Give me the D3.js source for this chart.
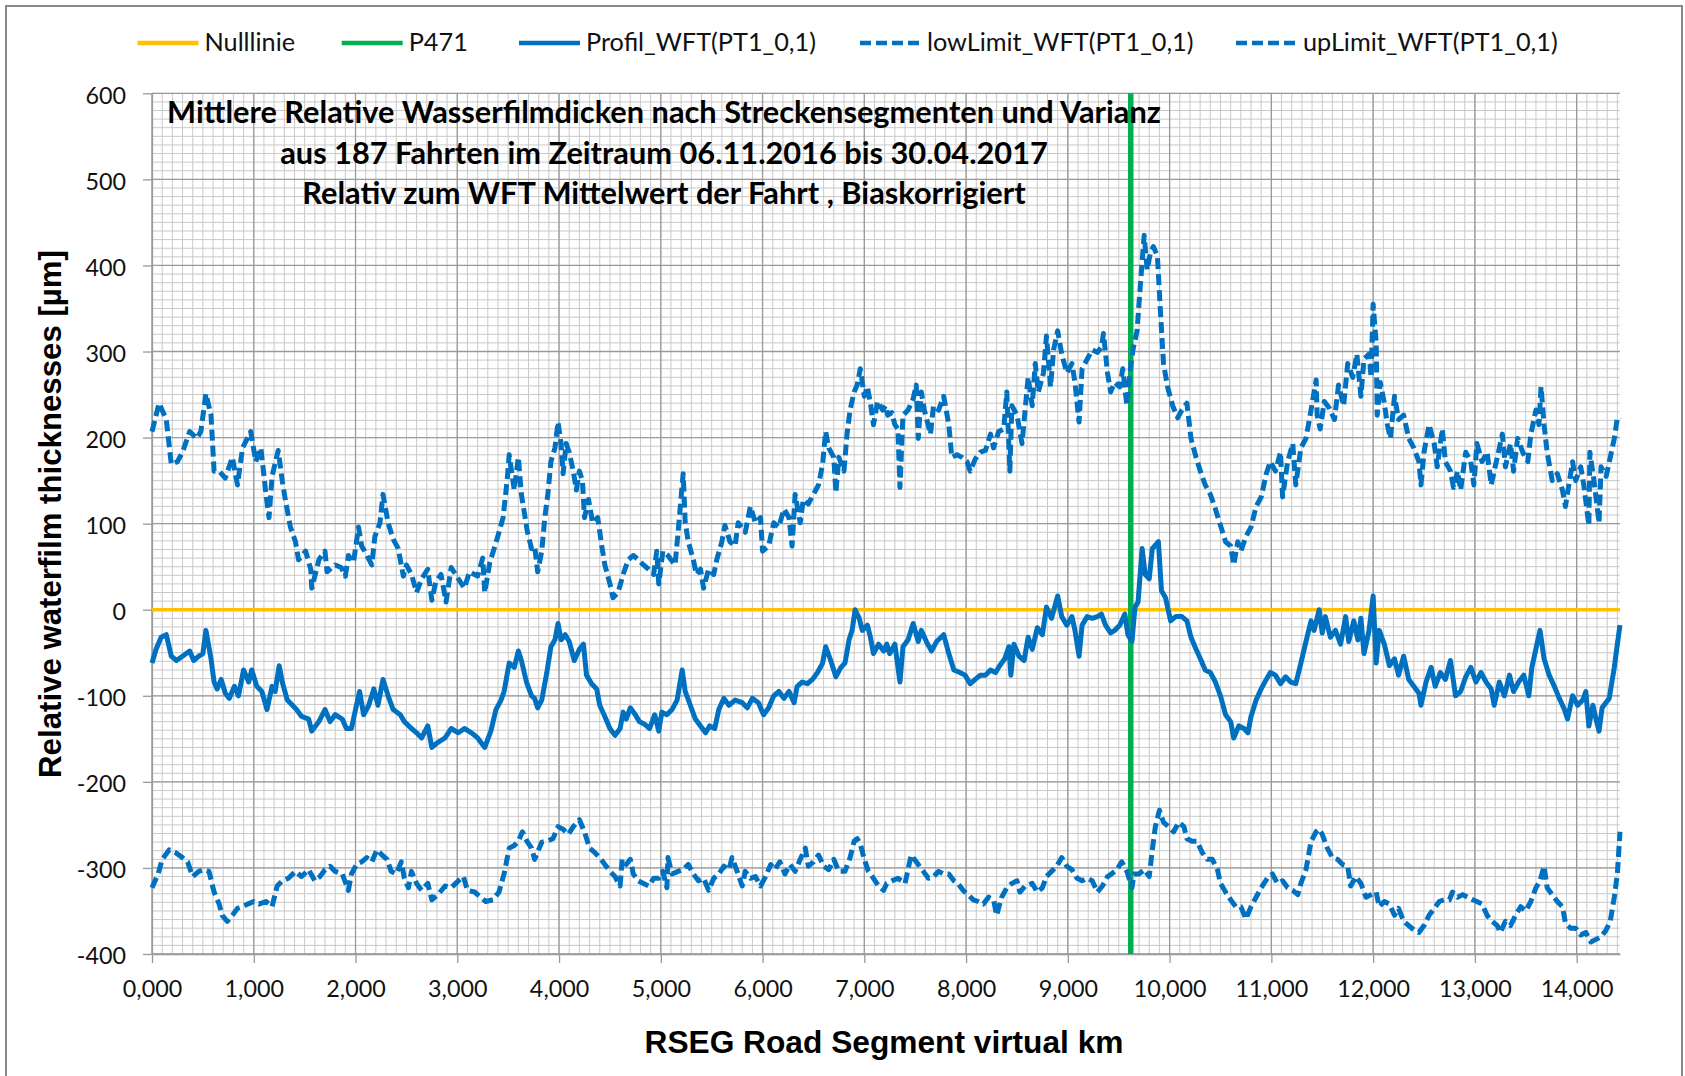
<!DOCTYPE html>
<html>
<head>
<meta charset="utf-8">
<script src="https://cdn.jsdelivr.net/npm/d3@7"></script>
<style>
	body { margin: 0; background: #fff; }
	svg { display: block; }
</style>
</head>
<body>
<svg id="chart" width="1685" height="1076"></svg>
<script>
'use strict'

const titleLines = [
	'Mittlere Relative Wasserfilmdicken nach Streckensegmenten und Varianz',
	'aus 187 Fahrten im Zeitraum 06.11.2016 bis 30.04.2017',
	'Relativ zum WFT Mittelwert der Fahrt , Biaskorrigiert'
]
const yLabel = 'Relative waterfilm thicknesses [µm]'
const xLabel = 'RSEG Road Segment virtual km'
const legendNames = ['Nulllinie', 'P471', 'Profil_WFT(PT1_0,1)', 'lowLimit_WFT(PT1_0,1)', 'upLimit_WFT(PT1_0,1)']

const xMax = 14.426
const xTicks = [0, 1, 2, 3, 4, 5, 6, 7, 8, 9, 10, 11, 12, 13, 14]
const yTicks = [-400, -300, -200, -100, 0, 100, 200, 300, 400, 500, 600]

// [km, µm]
const nullLinie = [[0, 0], [14.426, 0]]
const p471 = [[9.618, -400], [9.618, 600]]

const profil = [
	[0.00,-62],[0.04,-46],[0.09,-32],[0.14,-29],[0.19,-54],[0.24,-59],[0.30,-54],[0.37,-48],[0.41,-59],[0.46,-54],
	[0.50,-51],[0.53,-24],[0.58,-57],[0.61,-84],[0.64,-92],[0.68,-81],[0.72,-97],[0.76,-103],[0.81,-89],[0.85,-100],
	[0.90,-70],[0.95,-84],[0.98,-70],[1.03,-89],[1.08,-95],[1.13,-116],[1.18,-89],[1.21,-95],[1.25,-65],[1.28,-84],
	[1.33,-105],[1.38,-111],[1.42,-116],[1.47,-124],[1.54,-127],[1.57,-141],[1.64,-130],[1.70,-116],[1.75,-130],[1.80,-122],
	[1.87,-127],[1.91,-138],[1.96,-138],[2.00,-116],[2.04,-95],[2.08,-122],[2.13,-111],[2.18,-92],[2.22,-111],[2.27,-81],
	[2.32,-100],[2.37,-116],[2.44,-122],[2.48,-130],[2.55,-138],[2.60,-143],[2.65,-149],[2.71,-135],[2.75,-160],[2.81,-154],
	[2.88,-149],[2.94,-138],[3.01,-143],[3.07,-138],[3.14,-143],[3.20,-149],[3.27,-160],[3.33,-141],[3.38,-116],[3.43,-105],
	[3.46,-95],[3.51,-62],[3.56,-67],[3.60,-48],[3.63,-59],[3.68,-84],[3.73,-100],[3.76,-103],[3.79,-114],[3.83,-105],
	[3.88,-73],[3.92,-43],[3.96,-35],[3.99,-16],[4.02,-35],[4.06,-29],[4.10,-37],[4.15,-59],[4.20,-46],[4.24,-40],
	[4.27,-76],[4.32,-86],[4.37,-92],[4.40,-111],[4.45,-124],[4.50,-138],[4.55,-146],[4.60,-138],[4.63,-119],[4.66,-127],
	[4.70,-114],[4.75,-122],[4.79,-130],[4.84,-133],[4.89,-138],[4.94,-122],[4.98,-141],[5.01,-119],[5.06,-122],[5.11,-116],
	[5.16,-105],[5.21,-70],[5.24,-95],[5.29,-111],[5.34,-127],[5.39,-135],[5.44,-143],[5.48,-135],[5.53,-138],[5.57,-116],
	[5.62,-103],[5.67,-111],[5.73,-105],[5.80,-108],[5.85,-114],[5.90,-103],[5.96,-108],[6.01,-122],[6.06,-114],[6.11,-100],
	[6.16,-95],[6.21,-103],[6.26,-95],[6.31,-108],[6.34,-89],[6.39,-84],[6.44,-86],[6.49,-81],[6.54,-73],[6.59,-62],
	[6.62,-43],[6.67,-59],[6.72,-78],[6.77,-67],[6.81,-62],[6.85,-35],[6.88,-24],[6.91,0],[6.95,-10],[6.98,-24],
	[7.03,-18],[7.06,-32],[7.09,-51],[7.14,-40],[7.19,-48],[7.22,-40],[7.25,-51],[7.30,-40],[7.35,-84],[7.38,-43],
	[7.43,-35],[7.48,-16],[7.53,-37],[7.56,-24],[7.61,-37],[7.66,-48],[7.71,-37],[7.78,-29],[7.83,-51],[7.88,-70],
	[7.94,-73],[7.99,-76],[8.04,-86],[8.09,-81],[8.14,-76],[8.19,-76],[8.24,-70],[8.29,-73],[8.33,-65],[8.38,-57],
	[8.42,-43],[8.44,-76],[8.47,-40],[8.52,-54],[8.57,-59],[8.61,-32],[8.65,-46],[8.70,-21],[8.75,-29],[8.79,3],
	[8.84,-10],[8.90,16],[8.94,-8],[8.99,-18],[9.04,-8],[9.07,-24],[9.11,-54],[9.14,-18],[9.19,-8],[9.24,-10],
	[9.29,-8],[9.33,-5],[9.37,-18],[9.42,-27],[9.46,-24],[9.51,-18],[9.56,-5],[9.59,-29],[9.63,-37],[9.66,3],
	[9.69,9],[9.73,71],[9.76,41],[9.80,36],[9.83,71],[9.89,79],[9.92,22],[9.96,14],[10.01,-13],[10.06,-8],
	[10.12,-8],[10.17,-13],[10.21,-32],[10.26,-46],[10.31,-59],[10.35,-70],[10.40,-73],[10.45,-84],[10.50,-100],[10.55,-122],
	[10.60,-130],[10.63,-149],[10.68,-135],[10.73,-138],[10.77,-143],[10.80,-124],[10.85,-105],[10.90,-92],[10.95,-81],[10.99,-73],
	[11.04,-76],[11.09,-86],[11.14,-78],[11.19,-84],[11.24,-86],[11.29,-62],[11.34,-37],[11.39,-13],[11.42,-24],[11.47,0],
	[11.50,-27],[11.53,-8],[11.58,-32],[11.63,-24],[11.68,-40],[11.73,-8],[11.76,-37],[11.81,-13],[11.85,-35],[11.88,-10],
	[11.91,-51],[11.96,-24],[12.00,16],[12.03,-62],[12.06,-24],[12.11,-40],[12.16,-65],[12.21,-57],[12.25,-76],[12.30,-54],
	[12.35,-81],[12.40,-89],[12.45,-97],[12.47,-111],[12.52,-84],[12.57,-67],[12.61,-89],[12.66,-73],[12.71,-81],[12.76,-59],
	[12.81,-100],[12.86,-95],[12.91,-78],[12.96,-67],[13.01,-84],[13.06,-73],[13.11,-84],[13.16,-92],[13.19,-111],[13.24,-84],
	[13.29,-100],[13.34,-76],[13.38,-95],[13.43,-84],[13.48,-76],[13.53,-100],[13.56,-67],[13.61,-40],[13.64,-24],[13.68,-57],
	[13.73,-76],[13.78,-89],[13.83,-103],[13.88,-116],[13.91,-127],[13.96,-100],[14.01,-111],[14.06,-105],[14.09,-95],[14.12,-135],
	[14.16,-111],[14.19,-127],[14.22,-141],[14.25,-114],[14.32,-103],[14.37,-67],[14.40,-40],[14.426,-18]
]

const lowLimit = [
	[0.00,-323],[0.06,-307],[0.10,-290],[0.17,-279],[0.23,-282],[0.30,-288],[0.35,-293],[0.40,-310],[0.46,-304],[0.51,-302],
	[0.56,-304],[0.61,-328],[0.66,-342],[0.69,-355],[0.74,-362],[0.79,-355],[0.84,-347],[0.89,-345],[0.94,-342],[1.00,-339],
	[1.05,-342],[1.12,-339],[1.18,-345],[1.23,-321],[1.28,-315],[1.34,-312],[1.41,-304],[1.47,-310],[1.54,-302],[1.60,-315],
	[1.65,-310],[1.70,-302],[1.75,-298],[1.80,-304],[1.87,-307],[1.93,-326],[1.96,-307],[2.01,-296],[2.06,-293],[2.11,-288],
	[2.16,-293],[2.21,-279],[2.26,-285],[2.31,-290],[2.35,-304],[2.40,-307],[2.45,-293],[2.48,-312],[2.52,-323],[2.55,-304],
	[2.60,-318],[2.65,-326],[2.71,-318],[2.75,-337],[2.81,-331],[2.88,-321],[2.94,-323],[3.01,-315],[3.06,-310],[3.10,-326],
	[3.17,-328],[3.23,-334],[3.28,-339],[3.35,-337],[3.41,-328],[3.46,-307],[3.51,-277],[3.56,-274],[3.60,-269],[3.64,-258],
	[3.69,-270],[3.73,-277],[3.76,-290],[3.83,-270],[3.88,-269],[3.94,-266],[3.99,-252],[4.04,-255],[4.09,-261],[4.14,-252],
	[4.20,-244],[4.25,-258],[4.30,-277],[4.35,-282],[4.40,-288],[4.45,-296],[4.50,-304],[4.55,-310],[4.60,-321],[4.62,-290],
	[4.66,-296],[4.70,-290],[4.73,-307],[4.78,-315],[4.83,-318],[4.88,-321],[4.93,-312],[4.98,-312],[5.02,-304],[5.06,-323],
	[5.07,-288],[5.11,-307],[5.17,-304],[5.22,-302],[5.27,-296],[5.32,-307],[5.37,-315],[5.42,-312],[5.47,-326],[5.52,-312],
	[5.57,-307],[5.62,-298],[5.67,-302],[5.70,-288],[5.75,-304],[5.80,-321],[5.83,-304],[5.88,-312],[5.93,-310],[5.98,-321],
	[6.03,-310],[6.08,-296],[6.12,-302],[6.17,-293],[6.22,-307],[6.27,-296],[6.32,-304],[6.37,-290],[6.42,-277],[6.45,-298],
	[6.50,-293],[6.55,-285],[6.60,-298],[6.65,-302],[6.70,-290],[6.75,-304],[6.81,-304],[6.86,-288],[6.90,-269],[6.93,-266],
	[6.96,-272],[7.00,-290],[7.04,-304],[7.09,-312],[7.14,-321],[7.19,-326],[7.22,-318],[7.27,-315],[7.33,-312],[7.40,-318],
	[7.46,-285],[7.53,-296],[7.58,-304],[7.63,-312],[7.68,-310],[7.73,-304],[7.78,-307],[7.83,-307],[7.88,-315],[7.92,-318],
	[7.97,-326],[8.02,-331],[8.07,-337],[8.12,-339],[8.17,-342],[8.22,-334],[8.27,-337],[8.30,-355],[8.35,-334],[8.40,-323],
	[8.45,-318],[8.50,-315],[8.53,-328],[8.58,-321],[8.65,-318],[8.70,-328],[8.75,-323],[8.79,-310],[8.84,-304],[8.89,-298],
	[8.94,-288],[8.99,-298],[9.04,-302],[9.09,-312],[9.14,-315],[9.19,-312],[9.24,-315],[9.29,-328],[9.34,-321],[9.39,-310],
	[9.43,-307],[9.48,-302],[9.53,-293],[9.58,-304],[9.63,-323],[9.65,-307],[9.70,-307],[9.75,-302],[9.80,-310],[9.83,-279],
	[9.86,-252],[9.90,-233],[9.94,-247],[9.99,-252],[10.04,-258],[10.09,-247],[10.14,-252],[10.17,-266],[10.22,-269],[10.27,-269],
	[10.32,-282],[10.37,-290],[10.42,-290],[10.47,-302],[10.50,-318],[10.55,-328],[10.60,-337],[10.65,-345],[10.70,-345],[10.75,-359],
	[10.80,-345],[10.85,-334],[10.90,-323],[10.96,-312],[11.01,-307],[11.06,-318],[11.11,-315],[11.16,-323],[11.21,-326],[11.26,-331],
	[11.29,-318],[11.34,-302],[11.39,-269],[11.44,-258],[11.47,-255],[11.50,-261],[11.55,-277],[11.60,-288],[11.65,-290],[11.70,-296],
	[11.75,-298],[11.78,-321],[11.83,-310],[11.88,-318],[11.93,-334],[11.98,-331],[12.03,-328],[12.06,-345],[12.11,-339],[12.16,-342],
	[12.21,-355],[12.25,-347],[12.30,-362],[12.35,-367],[12.40,-372],[12.45,-375],[12.50,-367],[12.55,-355],[12.60,-347],[12.65,-339],
	[12.70,-337],[12.75,-337],[12.78,-328],[12.83,-334],[12.88,-331],[12.93,-334],[12.98,-337],[13.02,-339],[13.07,-342],[13.12,-355],
	[13.17,-362],[13.22,-367],[13.25,-375],[13.30,-362],[13.35,-367],[13.40,-355],[13.45,-345],[13.50,-350],[13.55,-339],[13.60,-323],
	[13.64,-315],[13.68,-298],[13.71,-323],[13.76,-331],[13.81,-339],[13.86,-345],[13.89,-364],[13.94,-370],[13.99,-370],[14.04,-378],
	[14.09,-375],[14.14,-386],[14.19,-383],[14.24,-380],[14.29,-372],[14.33,-362],[14.37,-334],[14.40,-307],[14.426,-258]
]

const upLimit = [
	[0.00,207],[0.07,240],[0.14,221],[0.19,169],[0.25,172],[0.30,183],[0.37,207],[0.44,199],[0.48,207],[0.53,251],
	[0.58,226],[0.61,161],[0.66,161],[0.72,153],[0.79,177],[0.84,145],[0.89,188],[0.97,207],[1.02,172],[1.07,188],
	[1.12,134],[1.15,107],[1.18,155],[1.24,185],[1.28,150],[1.31,128],[1.36,96],[1.41,79],[1.44,58],[1.51,68],
	[1.56,47],[1.57,25],[1.64,58],[1.70,68],[1.72,44],[1.80,52],[1.86,49],[1.90,39],[1.93,63],[1.98,55],
	[2.03,96],[2.06,74],[2.09,68],[2.16,52],[2.19,85],[2.24,101],[2.27,134],[2.32,101],[2.37,82],[2.42,71],
	[2.47,39],[2.50,52],[2.55,41],[2.60,20],[2.65,36],[2.71,47],[2.75,11],[2.79,33],[2.84,41],[2.89,9],
	[2.94,49],[3.01,36],[3.07,25],[3.12,44],[3.20,39],[3.25,60],[3.27,20],[3.32,55],[3.37,74],[3.41,90],
	[3.45,107],[3.49,150],[3.51,180],[3.56,139],[3.60,177],[3.63,134],[3.66,112],[3.69,90],[3.73,71],[3.76,74],
	[3.79,44],[3.83,68],[3.86,107],[3.89,134],[3.92,172],[3.96,188],[3.99,218],[4.02,193],[4.04,158],[4.07,193],
	[4.10,183],[4.14,161],[4.17,139],[4.20,161],[4.23,150],[4.25,107],[4.29,128],[4.33,101],[4.38,107],[4.42,74],
	[4.45,52],[4.50,30],[4.53,14],[4.58,20],[4.63,41],[4.68,58],[4.73,63],[4.78,58],[4.83,52],[4.88,47],
	[4.93,41],[4.96,68],[4.98,30],[5.02,68],[5.07,63],[5.14,52],[5.17,90],[5.21,145],[5.22,158],[5.24,101],
	[5.27,79],[5.32,58],[5.35,41],[5.39,47],[5.42,25],[5.47,47],[5.52,41],[5.55,58],[5.60,79],[5.63,98],
	[5.68,79],[5.73,74],[5.76,101],[5.83,90],[5.88,120],[5.93,101],[5.98,107],[6.00,68],[6.06,74],[6.11,101],
	[6.16,96],[6.21,117],[6.26,107],[6.29,74],[6.32,134],[6.37,101],[6.40,128],[6.45,123],[6.50,134],[6.55,145],
	[6.59,169],[6.62,207],[6.65,188],[6.70,177],[6.72,136],[6.75,177],[6.80,161],[6.83,204],[6.86,232],[6.90,253],
	[6.93,261],[6.96,280],[7.00,248],[7.03,259],[7.06,240],[7.09,215],[7.13,242],[7.18,232],[7.21,237],[7.23,226],
	[7.27,229],[7.30,215],[7.33,210],[7.35,142],[7.38,226],[7.43,232],[7.48,245],[7.51,261],[7.53,199],[7.56,253],
	[7.59,232],[7.65,204],[7.68,237],[7.73,232],[7.78,248],[7.83,215],[7.86,177],[7.91,180],[7.96,177],[8.01,172],
	[8.04,161],[8.09,175],[8.14,183],[8.19,185],[8.24,204],[8.27,188],[8.32,207],[8.37,210],[8.40,253],[8.43,161],
	[8.45,237],[8.50,226],[8.55,193],[8.58,232],[8.61,270],[8.65,237],[8.68,286],[8.71,253],[8.76,275],[8.79,318],
	[8.83,259],[8.86,302],[8.90,324],[8.94,297],[8.99,275],[9.04,286],[9.07,264],[9.11,218],[9.14,280],[9.19,291],
	[9.24,302],[9.29,299],[9.33,305],[9.35,321],[9.39,275],[9.42,253],[9.46,264],[9.51,259],[9.54,280],[9.58,237],
	[9.61,275],[9.64,302],[9.68,324],[9.71,373],[9.75,435],[9.78,395],[9.81,414],[9.84,422],[9.88,411],[9.91,346],
	[9.94,286],[9.98,259],[10.03,237],[10.08,223],[10.12,232],[10.17,240],[10.21,199],[10.26,177],[10.31,158],[10.35,145],
	[10.40,134],[10.45,117],[10.50,98],[10.55,79],[10.60,74],[10.63,52],[10.67,79],[10.70,68],[10.75,85],[10.80,96],
	[10.85,120],[10.90,131],[10.95,158],[10.99,172],[11.04,161],[11.09,183],[11.11,131],[11.16,172],[11.21,193],[11.24,145],
	[11.29,188],[11.34,199],[11.39,232],[11.44,267],[11.45,226],[11.48,210],[11.52,242],[11.57,234],[11.62,221],[11.66,261],
	[11.71,237],[11.75,286],[11.80,270],[11.84,297],[11.88,248],[11.91,291],[11.96,297],[11.98,270],[12.00,355],[12.03,310],
	[12.04,226],[12.07,264],[12.11,240],[12.14,215],[12.17,199],[12.21,248],[12.25,221],[12.30,226],[12.35,199],[12.40,188],
	[12.45,172],[12.47,145],[12.50,183],[12.55,215],[12.60,193],[12.63,166],[12.68,210],[12.71,172],[12.76,161],[12.79,142],
	[12.83,161],[12.86,139],[12.91,183],[12.96,172],[12.99,145],[13.02,193],[13.07,172],[13.12,183],[13.16,145],[13.22,177],
	[13.27,204],[13.30,166],[13.35,193],[13.38,161],[13.42,199],[13.47,183],[13.52,172],[13.55,204],[13.60,232],[13.63,215],
	[13.65,259],[13.68,215],[13.71,183],[13.76,150],[13.81,158],[13.86,139],[13.89,120],[13.93,150],[13.96,172],[13.99,150],
	[14.04,166],[14.07,145],[14.12,98],[14.13,183],[14.17,150],[14.22,101],[14.24,166],[14.29,155],[14.33,177],[14.37,199],
	[14.40,223],[14.426,221]
]

const series = [
	{ name: legendNames[0], data: nullLinie, color: '#ffc000', width: 3.5, dash: null },
	{ name: legendNames[1], data: p471, color: '#00b050', width: 5.5, dash: null },
	{ name: legendNames[2], data: profil, color: '#0070c0', width: 5, dash: null },
	{ name: legendNames[3], data: lowLimit, color: '#0070c0', width: 5, dash: '11,5' },
	{ name: legendNames[4], data: upLimit, color: '#0070c0', width: 5, dash: '11,5' }
]

const plot = { left: 152, right: 1620, top: 93.3, bottom: 954 }
const minorColor = '#c9c9c9'
const majorColor = '#9a9a9a'
const labelFont = 'Lato, "Open Sans", sans-serif'
const axisTitleFont = '"Liberation Sans", Arial, sans-serif'

// font size so that a text spans the width measured on the reference
function fitSize(sel, target) {
	const base = parseFloat(sel.attr('font-size'))
	return base * target / sel.node().getComputedTextLength()
}

const svg = d3.select('#chart')

svg.append('rect')
	.attr('x', 6).attr('y', 6)
	.attr('width', 1676).attr('height', 1080)
	.attr('fill', '#fff')
	.attr('stroke', '#8a8a8a')
	.attr('stroke-width', 2)

const x = d3.scaleLinear().domain([0, xMax]).range([plot.left, plot.right])
const y = d3.scaleLinear().domain([-400, 600]).range([plot.bottom, plot.top])

// gridlines: minor every 0.1 km / 10 µm, major at the ticks
const grid = svg.append('g').attr('class', 'grid')
const minorX = d3.range(0, Math.floor(xMax * 10) + 1).map(i => i / 10)
const minorY = d3.range(-40, 61).map(i => i * 10)

grid.selectAll('.vminor').data(minorX).enter().append('line')
	.attr('x1', d => x(d)).attr('x2', d => x(d))
	.attr('y1', plot.top).attr('y2', plot.bottom)
	.attr('stroke', minorColor).attr('stroke-width', 1)
grid.selectAll('.hminor').data(minorY).enter().append('line')
	.attr('x1', plot.left).attr('x2', plot.right)
	.attr('y1', d => y(d)).attr('y2', d => y(d))
	.attr('stroke', minorColor).attr('stroke-width', 1)
grid.selectAll('.vmajor').data(xTicks).enter().append('line')
	.attr('x1', d => x(d)).attr('x2', d => x(d))
	.attr('y1', plot.top).attr('y2', plot.bottom)
	.attr('stroke', majorColor).attr('stroke-width', 1.3)
grid.selectAll('.hmajor').data(yTicks).enter().append('line')
	.attr('x1', plot.left).attr('x2', plot.right)
	.attr('y1', d => y(d)).attr('y2', d => y(d))
	.attr('stroke', majorColor).attr('stroke-width', 1.3)

// axes
const de = d3.formatLocale({ decimal: ',', thousands: '.', grouping: [3], currency: ['', ' €'] })
const kmFormat = de.format('.3f')

const xAxis = d3.axisBottom(x).tickValues(xTicks).tickFormat(kmFormat)
	.tickSize(9).tickSizeOuter(0).tickPadding(17.5)
const yAxis = d3.axisLeft(y).tickValues(yTicks).tickFormat(d => String(d))
	.tickSize(9).tickSizeOuter(0).tickPadding(17)

const gx = svg.append('g')
	.attr('transform', 'translate(0,' + plot.bottom + ')')
	.call(xAxis)
const gy = svg.append('g')
	.attr('transform', 'translate(' + plot.left + ',0)')
	.call(yAxis)

for (const g of [gx, gy]) {
	g.select('.domain').attr('stroke', majorColor).attr('stroke-width', 1.3)
	g.selectAll('.tick line').attr('stroke', majorColor).attr('stroke-width', 1.3)
	g.selectAll('.tick text')
		.attr('fill', '#111')
		.style('font-family', labelFont)
		.style('font-size', '23.3px')
}
gy.selectAll('.tick text').attr('dy', '0.42em')

// series, first entry drawn first as in the original
const line = d3.line().x(d => x(d[0])).y(d => y(d[1]))

svg.append('g').selectAll('path')
	.data(series)
	.enter().append('path')
	.attr('d', d => line(d.data))
	.attr('fill', 'none')
	.attr('stroke', d => d.color)
	.attr('stroke-width', d => d.width)
	.attr('stroke-dasharray', d => d.dash)
	.attr('stroke-linejoin', 'round')

// title inside the plot
const title = svg.append('g')
	.attr('font-family', labelFont)
	.attr('font-weight', 'bold')
	.attr('text-anchor', 'middle')
	.attr('fill', '#000')
const titleRows = title.selectAll('text').data(titleLines).enter().append('text')
	.attr('x', 664)
	.attr('y', (d, i) => 123 + i * 40.5)
	.attr('font-size', 26)
	.text(d => d)
const titleSize = fitSize(d3.select(titleRows.nodes()[0]), 994)
titleRows.attr('font-size', titleSize)

// legend
const legendX = [137.5, 341.7, 519, 860, 1236]
const legend = svg.append('g').selectAll('g')
	.data(series)
	.enter().append('g')
	.attr('transform', (d, i) => 'translate(' + legendX[i] + ',0)')
legend.append('line')
	.attr('x1', 0).attr('x2', 61)
	.attr('y1', 43).attr('y2', 43)
	.attr('stroke', d => d.color)
	.attr('stroke-width', 4.5)
	.attr('stroke-dasharray', d => d.dash ? '11,5' : null)
const legendText = legend.append('text')
	.attr('x', 67)
	.attr('y', 51)
	.attr('font-family', labelFont)
	.attr('font-size', 24)
	.attr('fill', '#111')
	.text(d => d.name)
const legendSize = fitSize(d3.select(legendText.nodes()[2]), 230)
legendText.attr('font-size', legendSize)

// axis titles
const yTitle = svg.append('text')
	.attr('transform', 'translate(50,514) rotate(-90)')
	.attr('text-anchor', 'middle')
	.attr('dy', '0.35em')
	.attr('font-family', axisTitleFont)
	.attr('font-weight', 'bold')
	.attr('font-size', 31)
	.text(yLabel)
yTitle.attr('font-size', fitSize(yTitle, 528))

const xTitle = svg.append('text')
	.attr('x', 884)
	.attr('y', 1053)
	.attr('text-anchor', 'middle')
	.attr('font-family', axisTitleFont)
	.attr('font-weight', 'bold')
	.attr('font-size', 31.5)
	.text(xLabel)
xTitle.attr('font-size', fitSize(xTitle, 479))
</script>
</body>
</html>
